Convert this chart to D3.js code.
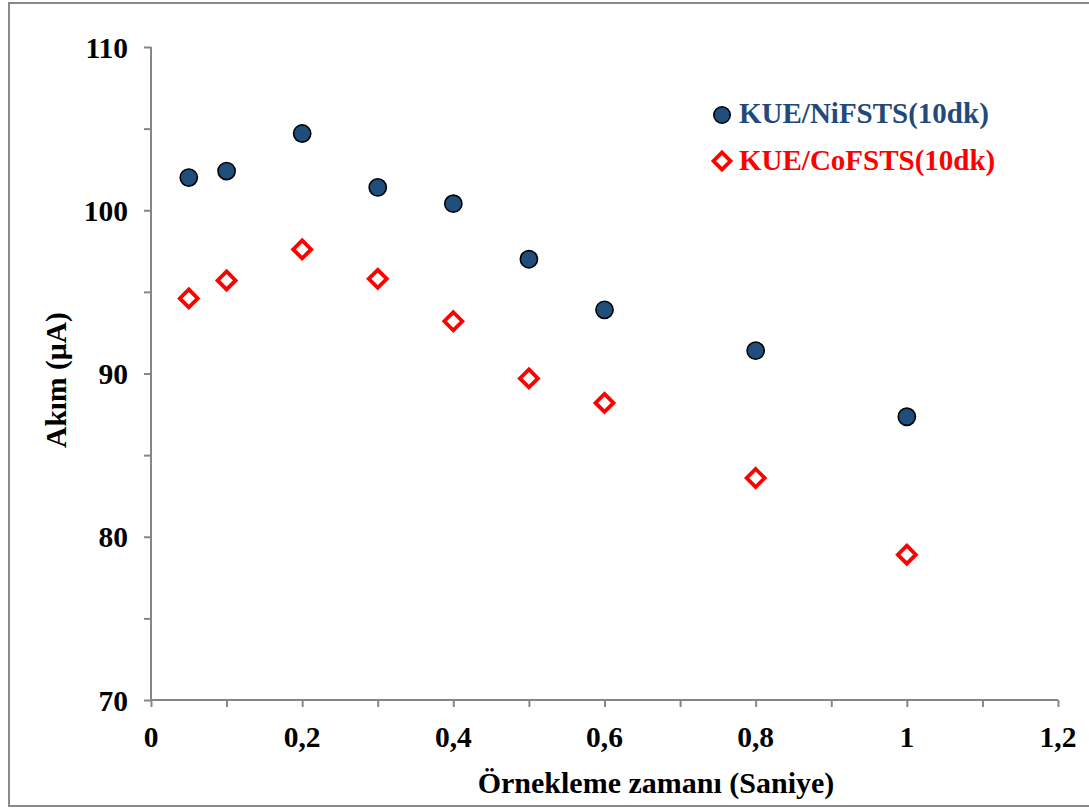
<!DOCTYPE html>
<html>
<head>
<meta charset="utf-8">
<script src="https://cdn.jsdelivr.net/npm/d3@7"></script>
<style>
  html, body { margin: 0; padding: 0; background: #fff; }
  svg { display: block; }
  text { font-family: "Liberation Serif", "Times New Roman", serif; font-weight: bold; }
</style>
</head>
<body>
<svg id="chart" width="1089" height="809"></svg>
<script>
// ---- data ----
const xValues = [0.05, 0.1, 0.2, 0.3, 0.4, 0.5, 0.6, 0.8, 1.0];
const niValues = [102.0, 102.4, 104.7, 101.4, 100.4, 97.0, 93.9, 91.4, 87.35];
const coValues = [94.6, 95.7, 97.6, 95.8, 93.2, 89.7, 88.2, 83.6, 78.9];
const seriesNames = ["KUE/NiFSTS(10dk)", "KUE/CoFSTS(10dk)"];
const xTickValues = [0, 0.2, 0.4, 0.6, 0.8, 1, 1.2];
const xTickLabels = ["0", "0,2", "0,4", "0,6", "0,8", "1", "1,2"];
const xMinorTicks = [0.1, 0.3, 0.5, 0.7, 0.9, 1.1];
const yTickValues = [70, 80, 90, 100, 110];
const yMinorTicks = [75, 85, 95, 105];
const xTitle = "Örnekleme zamanı (Saniye)";
const yTitle = "Akım (µA)";

// ---- layout ----
const svg = d3.select("#chart");
const pLeft = 151, pRight = 1058, pTop = 47, pBottom = 700;
const x = d3.scaleLinear().domain([0, 1.2]).range([pLeft, pRight]);
const y = d3.scaleLinear().domain([70, 110]).range([pBottom, pTop]);

const axisColor = "#868686";
const niFill = "#1f4e7c";
const coColor = "#ff0000";

// outer border
svg.append("rect").attr("x", 9).attr("y", 3).attr("width", 1100).attr("height", 803)
  .attr("fill", "none").attr("stroke", "#8a8a8a").attr("stroke-width", 2);

// x axis
const xAxis = d3.axisBottom(x).tickValues(xTickValues.concat(xMinorTicks))
  .tickSize(7).tickFormat("");
const gx = svg.append("g").attr("transform", `translate(0,${pBottom})`).call(xAxis);
gx.select(".domain").attr("stroke", axisColor).attr("stroke-width", 2).attr("d", `M${pLeft},0H${pRight}`);
gx.selectAll(".tick line").attr("stroke", axisColor).attr("stroke-width", 2);
svg.append("g").selectAll("text").data(xTickValues).join("text")
  .attr("x", d => x(d)).attr("y", pBottom + 47)
  .attr("text-anchor", "middle").attr("font-size", 29.5).attr("fill", "#000")
  .text((d, i) => xTickLabels[i]);

// y axis
const yAxis = d3.axisLeft(y).tickValues(yTickValues.concat(yMinorTicks))
  .tickSize(7).tickFormat("");
const gy = svg.append("g").attr("transform", `translate(${pLeft},0)`).call(yAxis);
gy.select(".domain").attr("stroke", axisColor).attr("stroke-width", 2).attr("d", `M0,${pTop}V${pBottom}`);
gy.selectAll(".tick line").attr("stroke", axisColor).attr("stroke-width", 2);
svg.append("g").selectAll("text").data(yTickValues).join("text")
  .attr("x", 128).attr("y", d => y(d)).attr("dy", "0.36em")
  .attr("text-anchor", "end").attr("font-size", 29.5).attr("fill", "#000")
  .text(d => d);

// titles
svg.append("text").attr("x", 656).attr("y", 793).attr("text-anchor", "middle")
  .attr("font-size", 30).attr("fill", "#000").text(xTitle);
svg.append("text").attr("transform", "translate(66,380) rotate(-90)").attr("text-anchor", "middle")
  .attr("font-size", 29.5).attr("fill", "#000").text(yTitle);

// markers
const diamond = r => `M0,${-r}L${r},0L0,${r}L${-r},0Z`;
const niData = xValues.map((d, i) => ({ x: d, y: niValues[i] }));
const coData = xValues.map((d, i) => ({ x: d, y: coValues[i] }));

svg.append("g").selectAll("path").data(coData).join("path")
  .attr("transform", d => `translate(${x(d.x)},${y(d.y)})`)
  .attr("d", diamond(9)).attr("fill", "#fff").attr("stroke", coColor).attr("stroke-width", 3.8);

svg.append("g").selectAll("circle").data(niData).join("circle")
  .attr("cx", d => x(d.x)).attr("cy", d => y(d.y)).attr("r", 8.6)
  .attr("fill", niFill).attr("stroke", "#000").attr("stroke-width", 1.6);

// legend
svg.append("circle").attr("cx", 722).attr("cy", 115).attr("r", 8.2)
  .attr("fill", niFill).attr("stroke", "#000").attr("stroke-width", 1.6);
svg.append("text").attr("x", 739).attr("y", 123).attr("font-size", 29).attr("fill", "#23497a").text(seriesNames[0]);
svg.append("path").attr("transform", "translate(722,161)").attr("d", diamond(8.5))
  .attr("fill", "#fff").attr("stroke", coColor).attr("stroke-width", 3.8);
svg.append("text").attr("x", 739).attr("y", 170).attr("font-size", 29).attr("fill", coColor).text(seriesNames[1]);
</script>
</body>
</html>
